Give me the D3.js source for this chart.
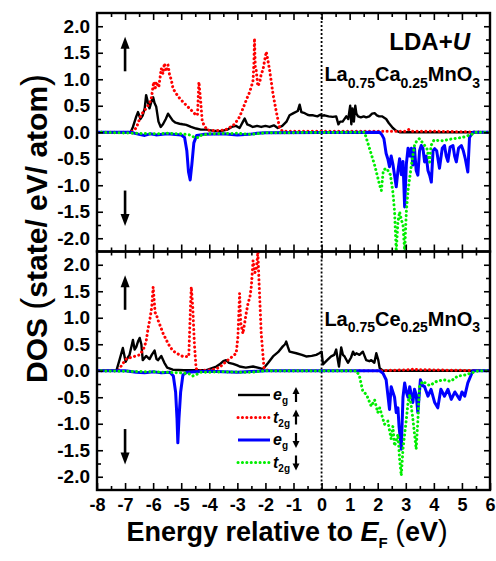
<!DOCTYPE html>
<html>
<head>
<meta charset="utf-8">
<script src="https://cdn.jsdelivr.net/npm/d3@7"></script>
<style>
  body { margin: 0; background: #fff; }
  svg { display: block; font-family: "Liberation Sans", Arial, sans-serif; font-weight: bold; }
</style>
</head>
<body>
<div id="graph"></div>
<script>
// ---- data (energy in eV, DOS in state/eV/atom) ----
var xTicks = [-8, -7, -6, -5, -4, -3, -2, -1, 0, 1, 2, 3, 4, 5, 6];
var yTicks = [-2, -1.5, -1, -0.5, 0, 0.5, 1, 1.5, 2];

// La0.75Ca0.25MnO3
var caEgUp = [[-8,0],[-6.8,0],[-6.72,0.1],[-6.6,0.3],[-6.54,0.38],[-6.45,0.25],[-6.37,0.32],[-6.3,0.45],[-6.25,0.7],[-6.18,0.55],[-6.13,0.45],[-6.05,0.6],[-6.0,0.66],[-5.95,0.55],[-5.89,0.48],[-5.81,0.2],[-5.73,0.1],[-5.65,0.15],[-5.55,0.25],[-5.47,0.35],[-5.38,0.28],[-5.3,0.22],[-5.2,0.18],[-5.06,0.16],[-4.95,0.15],[-4.82,0.14],[-4.65,0.1],[-4.47,0.07],[-4.3,0.05],[-4.1,0.05],[-3.9,0.03],[-3.6,0.02],[-3.35,0.05],[-3.2,0.1],[-3.05,0.12],[-2.92,0.08],[-2.8,0.2],[-2.74,0.26],[-2.65,0.15],[-2.56,0.13],[-2.45,0.1],[-2.3,0.12],[-2.15,0.1],[-2.0,0.12],[-1.85,0.1],[-1.7,0.13],[-1.56,0.08],[-1.4,0.12],[-1.25,0.2],[-1.14,0.32],[-1.0,0.36],[-0.85,0.4],[-0.78,0.52],[-0.72,0.38],[-0.6,0.36],[-0.5,0.33],[-0.43,0.32],[-0.3,0.32],[-0.15,0.3],[-0.05,0.33],[0,0.31],[0.1,0.32],[0.25,0.3],[0.4,0.29],[0.52,0.3],[0.6,0.15],[0.66,0.2],[0.75,0.2],[0.88,0.3],[0.95,0.25],[1.02,0.5],[1.06,0.15],[1.1,0.45],[1.15,0.2],[1.2,0.5],[1.24,0.35],[1.3,0.3],[1.4,0.28],[1.5,0.3],[1.59,0.28],[1.7,0.3],[1.8,0.35],[1.89,0.36],[1.97,0.32],[2.05,0.3],[2.15,0.3],[2.3,0.25],[2.4,0.17],[2.54,0.08],[2.65,0.03],[2.78,0],[6,0]];
var caT2gUp = [[-8,0],[-6.8,0],[-6.6,0.08],[-6.45,0.3],[-6.37,0.37],[-6.25,0.45],[-6.13,0.55],[-6.07,0.62],[-5.98,0.95],[-5.93,0.8],[-5.89,0.95],[-5.8,0.85],[-5.71,1.2],[-5.65,1.1],[-5.6,1.3],[-5.53,1.15],[-5.47,1.27],[-5.42,1.1],[-5.35,0.98],[-5.29,0.82],[-5.2,0.75],[-5.12,0.68],[-4.95,0.58],[-4.82,0.51],[-4.65,0.42],[-4.52,0.35],[-4.42,0.32],[-4.37,0.95],[-4.31,0.6],[-4.25,0.2],[-4.15,0.1],[-4.06,0.04],[-3.8,0.03],[-3.46,0.04],[-3.3,0.08],[-3.1,0.15],[-2.92,0.29],[-2.8,0.45],[-2.74,0.53],[-2.65,0.65],[-2.56,0.76],[-2.48,0.9],[-2.44,0.98],[-2.41,1.3],[-2.39,1.77],[-2.36,1.2],[-2.33,1.17],[-2.27,0.87],[-2.2,0.95],[-2.15,1.1],[-2.09,1.17],[-2.03,1.35],[-1.97,1.52],[-1.91,1.35],[-1.85,1.17],[-1.73,0.72],[-1.61,0.38],[-1.5,0.1],[-1.4,0.02],[2.0,0.02],[2.5,0.02],[3.0,0.02],[3.1,0.05],[3.2,0.02],[3.8,0.02],[6,0]];
var caEgDn = [[-8,0],[-6.8,0],[-6.5,-0.04],[-6.3,-0.06],[-6.1,-0.03],[-5.9,-0.05],[-5.5,-0.03],[-5.0,-0.05],[-4.88,-0.1],[-4.8,-0.35],[-4.74,-0.75],[-4.68,-0.9],[-4.62,-0.6],[-4.55,-0.2],[-4.45,-0.06],[-4.2,-0.04],[-3.5,-0.03],[-3.0,-0.05],[-2.6,-0.04],[-2.3,-0.02],[-2.0,-0.01],[2.07,0],[2.15,-0.05],[2.22,-0.12],[2.3,-0.4],[2.36,-0.5],[2.42,-0.65],[2.48,-0.45],[2.54,-0.6],[2.6,-0.81],[2.66,-1.03],[2.72,-0.73],[2.78,-0.5],[2.84,-0.8],[2.9,-0.55],[2.96,-1.41],[3.02,-0.6],[3.08,-0.3],[3.14,-0.45],[3.2,-0.3],[3.25,-0.62],[3.31,-0.3],[3.37,-0.72],[3.43,-0.81],[3.49,-0.35],[3.55,-0.25],[3.61,-0.3],[3.67,-0.56],[3.73,-0.45],[3.79,-0.72],[3.85,-0.81],[3.91,-0.94],[3.97,-0.35],[4.03,-0.31],[4.1,-0.35],[4.2,-0.68],[4.3,-0.3],[4.38,-0.25],[4.44,-0.45],[4.5,-0.55],[4.58,-0.28],[4.68,-0.25],[4.74,-0.45],[4.8,-0.56],[4.88,-0.3],[4.98,-0.25],[5.05,-0.35],[5.12,-0.5],[5.21,-0.75],[5.27,-0.1],[5.39,0],[6,0]];
var caT2gDn = [[-8,0],[-6.5,-0.02],[-6.0,-0.03],[-5.5,-0.02],[-5.0,-0.03],[-4.7,-0.05],[-4.55,-0.09],[-4.4,-0.1],[-4.3,-0.06],[-4.0,-0.03],[-3.0,-0.02],[-2.5,-0.04],[-2.0,-0.01],[1.53,0],[1.71,-0.31],[1.89,-0.62],[2.0,-0.85],[2.07,-1.0],[2.13,-1.1],[2.2,-0.72],[2.3,-0.68],[2.36,-0.72],[2.45,-0.8],[2.54,-1.13],[2.6,-1.5],[2.66,-2.25],[2.72,-1.7],[2.78,-1.5],[2.84,-1.65],[2.9,-1.75],[2.96,-2.25],[3.02,-1.5],[3.08,-1.1],[3.2,-0.62],[3.31,-0.25],[3.4,-0.15],[3.49,-0.12],[3.6,-0.2],[3.75,-0.3],[3.85,-0.56],[3.9,-0.25],[4.0,-0.15],[4.3,-0.16],[4.7,-0.12],[5.0,-0.1],[5.3,-0.05],[5.5,0],[6,0]];

// La0.75Ce0.25MnO3
var ceEgUp = [[-8,0],[-7.31,0],[-7.2,0.2],[-7.08,0.43],[-6.98,0.17],[-6.9,0.25],[-6.84,0.3],[-6.72,0.58],[-6.66,0.4],[-6.6,0.45],[-6.54,0.55],[-6.48,0.62],[-6.42,0.5],[-6.37,0.2],[-6.25,0.28],[-6.13,0.22],[-6.05,0.3],[-5.95,0.38],[-5.88,0.22],[-5.83,0.2],[-5.71,0.28],[-5.6,0.15],[-5.5,0.06],[-5.3,0.02],[-4.9,0.01],[-4.1,0.01],[-3.9,0.05],[-3.75,0.08],[-3.63,0.12],[-3.5,0.18],[-3.4,0.2],[-3.3,0.15],[-3.15,0.13],[-3.0,0.1],[-2.92,0.08],[-2.7,0.06],[-2.44,0.08],[-2.2,0.05],[-2.09,0.03],[-1.9,0.15],[-1.73,0.27],[-1.55,0.35],[-1.38,0.46],[-1.3,0.5],[-1.26,0.55],[-1.2,0.45],[-1.14,0.36],[-0.9,0.33],[-0.7,0.3],[-0.55,0.27],[-0.35,0.28],[-0.19,0.3],[-0.08,0.33],[0,0.36],[0.05,0.12],[0.2,0.2],[0.34,0.27],[0.45,0.3],[0.52,0.4],[0.58,0.2],[0.62,0.08],[0.7,0.44],[0.76,0.3],[0.82,0.27],[0.94,0.15],[1.05,0.25],[1.12,0.36],[1.18,0.3],[1.24,0.33],[1.35,0.3],[1.47,0.36],[1.59,0.2],[1.7,0.18],[1.77,0.2],[1.88,0.15],[1.95,0.33],[2.02,0.2],[2.07,0.05],[2.19,0],[6,0]];
var ceT2gUp = [[-8,0],[-7.25,0],[-7.1,0.12],[-6.96,0.22],[-6.8,0.25],[-6.6,0.28],[-6.48,0.3],[-6.35,0.4],[-6.25,0.55],[-6.18,0.8],[-6.1,1.02],[-6.05,1.2],[-6.0,1.58],[-5.96,1.3],[-5.93,1.1],[-5.88,1.05],[-5.83,0.96],[-5.75,0.85],[-5.65,0.71],[-5.53,0.58],[-5.41,0.46],[-5.3,0.38],[-5.17,0.33],[-5.05,0.3],[-4.94,0.27],[-4.8,0.27],[-4.73,0.27],[-4.67,1.2],[-4.64,1.58],[-4.59,1.2],[-4.53,0.5],[-4.47,0.04],[-4.35,0],[-3.87,0.02],[-3.65,0.06],[-3.51,0.12],[-3.34,0.2],[-3.15,0.28],[-3.04,0.33],[-2.98,0.64],[-2.92,1.46],[-2.88,0.9],[-2.8,0.7],[-2.74,0.9],[-2.68,1.1],[-2.62,1.27],[-2.55,1.4],[-2.5,1.6],[-2.44,2.08],[-2.38,1.85],[-2.33,1.9],[-2.3,2.05],[-2.27,2.24],[-2.23,1.7],[-2.2,1.33],[-2.15,0.7],[-2.05,0.05],[-1.9,0],[2.0,0],[3.2,0.02],[3.3,0.04],[3.4,0.02],[6,0]];
var ceEgDn = [[-8,0],[-7.0,0],[-6.6,-0.03],[-6.3,-0.04],[-6.0,-0.02],[-5.7,-0.04],[-5.4,-0.03],[-5.28,-0.1],[-5.2,-0.4],[-5.15,-0.9],[-5.12,-1.36],[-5.08,-0.9],[-5.02,-0.4],[-4.94,-0.08],[-4.8,-0.03],[-4.5,-0.02],[-4.0,-0.01],[-3.0,-0.03],[-2.0,0],[2.07,0],[2.19,-0.05],[2.3,-0.17],[2.36,-0.45],[2.42,-0.73],[2.48,-0.3],[2.54,-0.4],[2.6,-0.5],[2.66,-0.79],[2.72,-0.7],[2.76,-1.05],[2.84,-1.48],[2.9,-0.5],[2.96,-0.23],[3.02,-0.4],[3.08,-0.5],[3.14,-0.3],[3.25,-0.6],[3.31,-0.35],[3.37,-0.45],[3.43,-0.79],[3.52,-0.17],[3.6,-0.28],[3.67,-0.3],[3.79,-0.48],[3.9,-0.35],[4.03,-0.6],[4.14,-0.7],[4.25,-0.35],[4.38,-0.48],[4.5,-0.35],[4.62,-0.54],[4.75,-0.4],[4.92,-0.54],[5.0,-0.4],[5.1,-0.48],[5.21,-0.23],[5.39,0],[6,0]];
var ceT2gDn = [[-8,0],[-6,-0.02],[-5.0,-0.04],[-4.7,-0.06],[-4.6,-0.1],[-4.5,-0.08],[-4.3,-0.03],[-3.5,-0.02],[-2.5,-0.03],[-2.0,0],[1.24,0],[1.35,-0.1],[1.47,-0.39],[1.6,-0.45],[1.77,-0.67],[1.89,-0.55],[2.0,-0.79],[2.07,-0.7],[2.24,-1.01],[2.36,-0.95],[2.48,-1.29],[2.54,-1.05],[2.6,-1.42],[2.72,-1.2],[2.78,-1.67],[2.84,-1.98],[2.9,-1.48],[3.02,-0.92],[3.08,-0.6],[3.14,-0.45],[3.25,-0.9],[3.37,-1.48],[3.43,-0.95],[3.49,-0.3],[3.6,-0.2],[3.85,-0.28],[4.1,-0.2],[4.35,-0.17],[4.6,-0.2],[4.85,-0.1],[5.1,-0.08],[5.35,-0.04],[5.6,0],[6,0]];

// ---- layout ----
var width = 496, height = 561;
var margin = {top: 13, left: 97, right: 6, bottom: 71};
var w = width - margin.left - margin.right;
var ph = (height - margin.top - margin.bottom) / 2;

var x = d3.scaleLinear().domain([-8, 6]).range([0, w]);
var y = d3.scaleLinear().domain([-2.25, 2.25]).range([ph, 0]);

var svg = d3.select("#graph").append("svg")
    .attr("width", width)
    .attr("height", height);

var styles = {
    egUp:  {color: "#000000", width: 2.4, dotted: false},
    t2gUp: {color: "#ff0000", width: 3, dotted: true},
    egDn:  {color: "#0000ff", width: 3, dotted: false},
    t2gDn: {color: "#00ee00", width: 3, dotted: true}
};

var panels = [
    {name: "ca", top: margin.top, label: ["La", "0.75", "Ca", "0.25", "MnO", "3"], series: [[caEgUp, "egUp"], [caT2gUp, "t2gUp"], [caEgDn, "egDn"], [caT2gDn, "t2gDn"]]},
    {name: "ce", top: margin.top + ph, label: ["La", "0.75", "Ce", "0.25", "MnO", "3"], series: [[ceEgUp, "egUp"], [ceT2gUp, "t2gUp"], [ceEgDn, "egDn"], [ceT2gDn, "t2gDn"]]}
];

var line = d3.line()
    .x(function(d) { return x(d[0]); })
    .y(function(d) { return y(d[1]); });

function tickStyle(g) {
    g.select(".domain").remove();
    g.selectAll(".tick line").attr("stroke", "#000").attr("stroke-width", 1.6);
    g.selectAll(".tick text").attr("fill", "#000").style("font-size", "19px").style("font-weight", "bold");
}

function minor(vals) {
    return vals.slice(0, -1).map(function(v, i) { return (v + vals[i + 1]) / 2; });
}

function arrow(g, ex, from, to) {
    var x0 = x(ex), y0 = y(from), y1 = y(to);
    var dir = y1 < y0 ? 1 : -1;
    g.append("line")
        .attr("x1", x0).attr("x2", x0)
        .attr("y1", y0).attr("y2", y1 + dir * 8)
        .attr("stroke", "#000").attr("stroke-width", 2.6);
    g.append("path")
        .attr("d", "M" + x0 + "," + y1 + "L" + (x0 - 4.5) + "," + (y1 + dir * 12) + "L" + (x0 + 4.5) + "," + (y1 + dir * 12) + "Z")
        .attr("fill", "#000");
}

panels.forEach(function(p, pi) {
    var g = svg.append("g").attr("transform", "translate(" + margin.left + "," + p.top + ")");

    g.append("clipPath").attr("id", "clip-" + p.name)
        .append("rect").attr("width", w).attr("height", ph);

    // Fermi level
    g.append("line")
        .attr("x1", x(0)).attr("x2", x(0))
        .attr("y1", 0).attr("y2", ph)
        .attr("stroke", "#000").attr("stroke-width", 1.8)
        .attr("stroke-dasharray", "2,2");

    var plot = g.append("g").attr("clip-path", "url(#clip-" + p.name + ")");
    p.series.forEach(function(s) {
        var st = styles[s[1]];
        plot.append("path")
            .datum(s[0])
            .attr("fill", "none")
            .attr("stroke", st.color)
            .attr("stroke-width", st.width)
            .attr("stroke-linejoin", "round")
            .attr("stroke-linecap", st.dotted ? "round" : "butt")
            .attr("stroke-dasharray", st.dotted ? "0.1,4.3" : null)
            .attr("d", line);
    });

    // Eje Y izquierdo
    g.append("g")
        .call(d3.axisLeft(y).tickValues(yTicks).tickSizeInner(-6).tickSizeOuter(0).tickPadding(7)
            .tickFormat(function(d) { return d.toFixed(1); }))
        .call(tickStyle);
    g.append("g")
        .call(d3.axisLeft(y).tickValues(minor(yTicks)).tickSize(-4).tickFormat(""))
        .call(tickStyle);
    // Eje Y derecho
    g.append("g").attr("transform", "translate(" + w + ",0)")
        .call(d3.axisRight(y).tickValues(yTicks).tickSize(-6).tickFormat(""))
        .call(tickStyle);
    g.append("g").attr("transform", "translate(" + w + ",0)")
        .call(d3.axisRight(y).tickValues(minor(yTicks)).tickSize(-4).tickFormat(""))
        .call(tickStyle);
    // Eje X arriba / abajo
    g.append("g")
        .call(d3.axisTop(x).tickValues(xTicks.slice(1, -1)).tickSize(-7).tickFormat(""))
        .call(tickStyle);
    g.append("g")
        .call(d3.axisTop(x).tickValues(minor(xTicks)).tickSize(-4).tickFormat(""))
        .call(tickStyle);
    g.append("g").attr("transform", "translate(0," + ph + ")")
        .call(d3.axisBottom(x).tickValues(pi === 1 ? xTicks : xTicks.slice(1, -1)).tickSizeInner(-7).tickSizeOuter(0).tickPadding(8)
            .tickFormat(function(d) { return pi === 1 ? String(d) : ""; }))
        .call(tickStyle)
        .selectAll(".tick text").style("font-size", "18px");
    g.append("g").attr("transform", "translate(0," + ph + ")")
        .call(d3.axisBottom(x).tickValues(minor(xTicks)).tickSize(-4).tickFormat(""))
        .call(tickStyle);

    // frame
    g.append("rect")
        .attr("width", w).attr("height", ph)
        .attr("fill", "none").attr("stroke", "#000").attr("stroke-width", 2.4);

    // spin arrows
    arrow(g, -7, 1.15, 1.8);
    arrow(g, -7, -1.1, -1.77);

    // compound label
    var t = g.append("text")
        .attr("x", x(0.1)).attr("y", pi === 0 ? 68 : 74)
        .style("font-size", "20px");
    p.label.forEach(function(part, i) {
        var sub = i % 2 === 1;
        t.append("tspan")
            .attr("dy", i === 0 ? 0 : (sub ? 6.5 : -6.5))
            .style("font-size", sub ? "14px" : "20px")
            .text(part);
    });
});

// LDA+U
var lda = svg.append("text")
    .attr("x", 470).attr("y", 50)
    .attr("text-anchor", "end")
    .style("font-size", "24px");
lda.append("tspan").text("LDA+");
lda.append("tspan").style("font-style", "italic").text("U");

// legend
var legendRows = [
    {style: "egUp", sym: "e", sub: "g", up: true},
    {style: "t2gUp", sym: "t", sub: "2g", up: true},
    {style: "egDn", sym: "e", sub: "g", up: false},
    {style: "t2gDn", sym: "t", sub: "2g", up: false}
];
var legend = svg.append("g").attr("transform", "translate(238,395)");
legendRows.forEach(function(r, i) {
    var st = styles[r.style];
    var ly = i * 22.5;
    legend.append("line")
        .attr("x1", 0).attr("x2", 32)
        .attr("y1", ly).attr("y2", ly)
        .attr("stroke", st.color)
        .attr("stroke-width", st.width)
        .attr("stroke-linecap", st.dotted ? "round" : "butt")
        .attr("stroke-dasharray", st.dotted ? "0.1,4.3" : null);
    var lt = legend.append("text")
        .attr("x", 35).attr("y", ly + 5)
        .style("font-size", "16px");
    lt.append("tspan").style("font-style", "italic").text(r.sym);
    lt.append("tspan").attr("dy", 4).style("font-size", "10px").text(r.sub);
    var ax = 58, d = r.up ? 1 : -1, tip = ly - d * 8;
    legend.append("line")
        .attr("x1", ax).attr("x2", ax)
        .attr("y1", ly + d * 7).attr("y2", tip + d * 4)
        .attr("stroke", "#000").attr("stroke-width", 2.2);
    legend.append("path")
        .attr("d", "M" + ax + "," + tip + "L" + (ax - 3.5) + "," + (tip + d * 7) + "L" + (ax + 3.5) + "," + (tip + d * 7) + "Z")
        .attr("fill", "#000");
});

// axis titles
var xt = svg.append("text")
    .attr("x", 287).attr("y", 541)
    .attr("text-anchor", "middle")
    .style("font-size", "27px");
xt.append("tspan").text("Energy relative to ");
xt.append("tspan").style("font-style", "italic").text("E");
xt.append("tspan").attr("dy", 7).style("font-size", "15px").text("F");
xt.append("tspan").attr("dy", -7).text(" ");
xt.append("tspan").style("font-weight", "normal").style("font-size", "29px").text("(");
xt.append("tspan").text("eV");
xt.append("tspan").style("font-weight", "normal").style("font-size", "29px").text(")");

var yt = svg.append("text")
    .attr("transform", "translate(47,383) rotate(-90)")
    .style("font-size", "30px");
yt.append("tspan").text("DOS ");
yt.append("tspan").style("font-weight", "normal").style("font-size", "36px").text("(");
yt.append("tspan").text("state/ eV/ atom");
yt.append("tspan").style("font-weight", "normal").style("font-size", "36px").text(")");
</script>
</body>
</html>
